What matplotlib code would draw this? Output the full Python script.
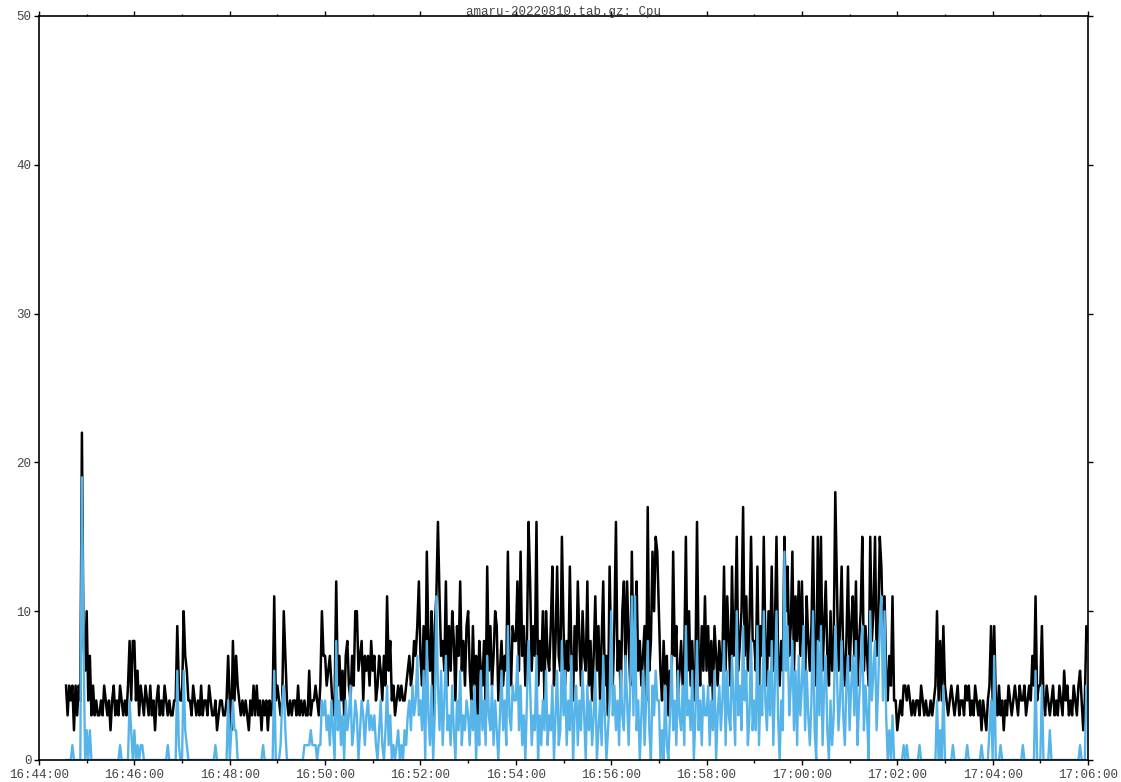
import pandas as pd
import numpy as np
import matplotlib
matplotlib.use("Agg")
import matplotlib.pyplot as plt
import matplotlib.dates as mdates

# samples every 2 s, one row per minute (first row starts at 16:44:34)
chunk_starts = ["16:44:34"] + ["16:%02d:00" % m for m in range(45, 60)] + \
               ["17:%02d:00" % m for m in range(0, 6)]

total_cpu = [
    [5, 3, 5, 4, 5, 2, 5, 3, 5, 4, 22, 8, 6],
    [10, 4, 7, 3, 5, 3, 4, 3, 3, 4, 3, 5, 4, 3, 4, 2, 4, 5, 3, 4, 3, 5, 4, 3, 4, 3, 5, 8, 4, 8],
    [8, 4, 6, 3, 5, 4, 3, 5, 4, 3, 5, 3, 4, 2, 4, 5, 3, 4, 3, 5, 4, 3, 4, 3, 3, 4, 4, 9, 5, 4],
    [4, 10, 7, 6, 4, 4, 3, 5, 4, 3, 4, 3, 5, 3, 4, 4, 3, 5, 4, 3, 3, 4, 2, 3, 4, 4, 3, 3, 4, 7],
    [4, 2, 8, 4, 7, 5, 4, 3, 4, 3, 4, 3, 2, 4, 3, 5, 3, 5, 3, 4, 2, 4, 3, 4, 2, 4, 3, 4, 11, 4],
    [5, 4, 3, 4, 10, 7, 4, 3, 4, 3, 4, 4, 3, 5, 3, 4, 3, 4, 3, 3, 6, 3, 4, 4, 5, 4, 3, 5, 10, 7],
    [7, 5, 6, 7, 5, 3, 4, 12, 5, 7, 4, 6, 3, 7, 8, 5, 4, 7, 5, 10, 10, 6, 7, 8, 4, 7, 6, 7, 5, 8],
    [6, 7, 4, 5, 7, 6, 4, 7, 5, 11, 6, 8, 4, 5, 3, 4, 5, 4, 5, 4, 4, 5, 6, 7, 5, 6, 8, 7, 9, 12],
    [7, 5, 9, 4, 14, 8, 6, 10, 3, 9, 11, 16, 11, 7, 8, 6, 12, 5, 9, 6, 10, 8, 4, 9, 7, 12, 6, 8, 5, 9],
    [10, 6, 4, 9, 5, 7, 3, 8, 6, 5, 8, 4, 13, 6, 9, 5, 7, 10, 9, 4, 6, 8, 5, 7, 6, 14, 7, 5, 9, 8],
    [8, 12, 6, 14, 7, 9, 5, 8, 16, 12, 6, 9, 7, 16, 5, 8, 6, 10, 4, 10, 7, 6, 9, 13, 5, 8, 13, 7, 6, 15],
    [9, 5, 8, 6, 13, 7, 4, 9, 6, 12, 8, 5, 10, 7, 6, 12, 5, 8, 4, 7, 11, 6, 9, 4, 8, 12, 5, 7, 3, 13],
    [7, 5, 9, 16, 6, 8, 4, 10, 12, 6, 12, 8, 5, 14, 7, 9, 12, 6, 8, 5, 7, 9, 4, 17, 6, 8, 14, 10, 15, 14],
    [10, 6, 4, 8, 5, 7, 3, 6, 5, 14, 7, 9, 4, 6, 8, 5, 7, 15, 6, 10, 5, 8, 4, 6, 16, 7, 5, 9, 6, 11],
    [6, 9, 5, 8, 4, 9, 7, 5, 8, 6, 7, 13, 6, 11, 8, 5, 13, 7, 9, 15, 6, 8, 10, 17, 7, 11, 6, 9, 15, 8],
    [8, 6, 13, 5, 9, 7, 15, 8, 5, 10, 7, 13, 6, 9, 15, 7, 5, 8, 6, 15, 10, 13, 7, 9, 14, 6, 11, 8, 12, 7],
    [12, 7, 5, 11, 8, 6, 9, 15, 7, 5, 15, 8, 15, 6, 9, 12, 7, 5, 10, 6, 8, 18, 12, 6, 9, 13, 7, 5, 8, 13],
    [6, 9, 11, 7, 12, 5, 8, 10, 15, 6, 9, 7, 5, 15, 8, 10, 15, 7, 9, 15, 13, 8, 11, 6, 4, 7, 5, 11, 4, 4],
    [2, 3, 4, 3, 5, 5, 4, 5, 4, 3, 4, 3, 4, 4, 3, 5, 4, 3, 4, 3, 3, 4, 3, 4, 5, 10, 4, 8, 4, 9],
    [5, 4, 3, 4, 5, 4, 3, 4, 5, 3, 4, 4, 3, 5, 4, 5, 3, 4, 3, 5, 4, 3, 4, 2, 4, 3, 2, 4, 5, 9],
    [4, 9, 4, 3, 5, 3, 4, 2, 4, 3, 5, 4, 3, 4, 5, 4, 3, 5, 4, 4, 5, 3, 4, 5, 4, 7, 5, 11, 4, 5],
    [5, 9, 4, 3, 5, 4, 3, 4, 5, 3, 4, 3, 5, 4, 3, 6, 4, 5, 3, 4, 3, 5, 4, 3, 5, 6, 4, 2, 4, 9, 8],
]

user_cpu = [
    [0, 0, 0, 0, 1, 0, 0, 0, 0, 0, 19, 8, 0],
    [2, 0, 2, 0, 0, 0, 0, 0, 0, 0, 0, 0, 0, 0, 0, 0, 0, 0, 0, 0, 0, 1, 0, 0, 0, 0, 0, 4, 2, 0],
    [2, 0, 1, 0, 1, 1, 0, 0, 0, 0, 0, 0, 0, 0, 0, 0, 0, 0, 0, 0, 0, 1, 0, 0, 0, 0, 0, 6, 1, 0],
    [0, 6, 2, 1, 0, 0, 0, 0, 0, 0, 0, 0, 0, 0, 0, 0, 0, 0, 0, 0, 0, 1, 0, 0, 0, 0, 0, 0, 0, 4],
    [0, 2, 4, 2, 2, 0, 0, 0, 0, 0, 0, 0, 0, 0, 0, 0, 0, 0, 0, 0, 0, 1, 0, 0, 0, 0, 0, 0, 6, 0],
    [0, 0, 1, 4, 5, 2, 0, 0, 0, 0, 0, 0, 0, 0, 0, 0, 0, 1, 1, 1, 1, 2, 1, 1, 1, 0, 1, 1, 4, 3],
    [4, 2, 3, 1, 4, 2, 0, 8, 2, 4, 1, 3, 0, 4, 2, 3, 5, 1, 2, 4, 3, 0, 2, 4, 3, 1, 3, 4, 2, 3],
    [2, 3, 1, 0, 2, 4, 1, 0, 2, 5, 1, 3, 0, 1, 0, 1, 2, 0, 1, 0, 2, 1, 3, 4, 2, 5, 3, 4, 7, 3],
    [4, 2, 6, 0, 8, 3, 1, 5, 0, 3, 11, 5, 2, 6, 1, 4, 7, 2, 3, 1, 5, 2, 0, 4, 2, 6, 1, 3, 2, 4],
    [3, 1, 4, 2, 5, 0, 3, 1, 6, 2, 4, 1, 7, 3, 2, 5, 1, 4, 2, 0, 3, 6, 2, 4, 1, 9, 3, 2, 5, 4],
    [4, 7, 2, 5, 1, 3, 0, 4, 8, 5, 1, 3, 2, 7, 0, 3, 1, 4, 2, 6, 1, 3, 2, 5, 0, 3, 6, 1, 2, 8],
    [3, 6, 1, 4, 2, 7, 0, 3, 5, 1, 4, 2, 6, 3, 0, 5, 2, 4, 1, 3, 6, 0, 2, 4, 1, 7, 3, 0, 2, 4],
    [10, 3, 5, 2, 4, 1, 6, 3, 2, 7, 4, 1, 5, 11, 3, 11, 2, 4, 0, 3, 6, 1, 4, 8, 2, 0, 5, 3, 6, 4],
    [4, 0, 2, 0, 5, 1, 0, 3, 7, 2, 4, 1, 6, 3, 2, 5, 1, 9, 3, 4, 2, 6, 0, 3, 8, 2, 4, 1, 5, 3],
    [3, 5, 1, 4, 2, 6, 0, 3, 5, 2, 4, 8, 1, 6, 3, 2, 7, 4, 1, 10, 3, 5, 2, 9, 4, 6, 1, 3, 8, 2],
    [4, 2, 9, 1, 5, 3, 10, 4, 2, 6, 3, 8, 1, 5, 10, 3, 0, 4, 2, 14, 6, 9, 3, 5, 8, 2, 6, 1, 7, 3],
    [5, 9, 2, 6, 3, 1, 4, 10, 2, 0, 8, 3, 9, 1, 5, 7, 2, 0, 4, 1, 3, 9, 6, 2, 4, 8, 3, 1, 5, 7],
    [2, 5, 7, 3, 8, 1, 4, 6, 9, 2, 5, 3, 0, 10, 4, 6, 8, 2, 5, 9, 11, 4, 10, 3, 0, 2, 0, 3, 0, 0],
    [0, 0, 0, 0, 1, 0, 1, 0, 0, 0, 0, 0, 0, 0, 1, 0, 0, 0, 0, 0, 0, 0, 0, 0, 0, 4, 0, 2, 0, 5],
    [0, 0, 0, 0, 0, 1, 0, 0, 0, 0, 0, 0, 0, 0, 1, 0, 0, 0, 0, 0, 0, 0, 0, 1, 0, 0, 0, 0, 2, 4],
    [0, 7, 0, 0, 0, 1, 0, 0, 0, 0, 0, 0, 0, 0, 0, 0, 0, 0, 0, 1, 0, 0, 0, 0, 0, 0, 0, 6, 0, 0],
    [0, 5, 0, 0, 0, 0, 2, 0, 0, 0, 0, 0, 0, 0, 0, 0, 0, 0, 0, 0, 0, 0, 0, 0, 0, 1, 0, 0, 0, 5, 4],
]

title = "amaru-20220810.tab.gz: Cpu"
day = "2022-08-10"


def build_series(chunks):
    times = []
    values = []
    for start, chunk in zip(chunk_starts, chunks):
        t0 = pd.Timestamp(day + " " + start)
        for i, v in enumerate(chunk):
            times.append(t0 + pd.Timedelta(seconds=2 * i))
            values.append(v)
    return pd.Series(values, index=pd.DatetimeIndex(times))


total = build_series(total_cpu)
user = build_series(user_cpu)

mono = "Liberation Mono"

fig = plt.figure(figsize=(11.21, 7.82), dpi=100)
ax = fig.add_axes([39 / 1121, 1 - 760 / 782, (1088 - 39) / 1121, (760 - 16) / 782])

ax.plot(total.index, total.values, color="black", lw=1.8)
ax.plot(user.index, user.values, color="#56B4E9", lw=1.7)

ax.set_xlim(pd.Timestamp(day + " 16:44:00"), pd.Timestamp(day + " 17:06:00"))
ax.set_ylim(0, 50)
ax.set_yticks(np.arange(0, 51, 10))

ax.xaxis.set_major_locator(mdates.MinuteLocator(byminute=range(0, 60, 2)))
ax.xaxis.set_minor_locator(mdates.MinuteLocator())
ax.xaxis.set_major_formatter(mdates.DateFormatter("%H:%M:%S"))

for s in ax.spines.values():
    s.set_linewidth(1.2)
    s.set_color("black")

ax.tick_params(which="major", direction="out", length=3.5, width=1,
               top=True, right=True, labelsize=9, labelcolor="#444444")
ax.tick_params(which="minor", direction="out", length=1.8, width=1,
               top=True, bottom=True)
ax.tick_params(axis="x", pad=3)
ax.tick_params(axis="y", pad=2)
for lab in ax.get_xticklabels() + ax.get_yticklabels():
    lab.set_fontfamily(mono)

fig.text(563 / 1121, 1 - 15 / 782, title, ha="center", va="baseline",
         fontsize=9, family=mono, color="#444444")

fig.savefig("out.png", dpi=100)
